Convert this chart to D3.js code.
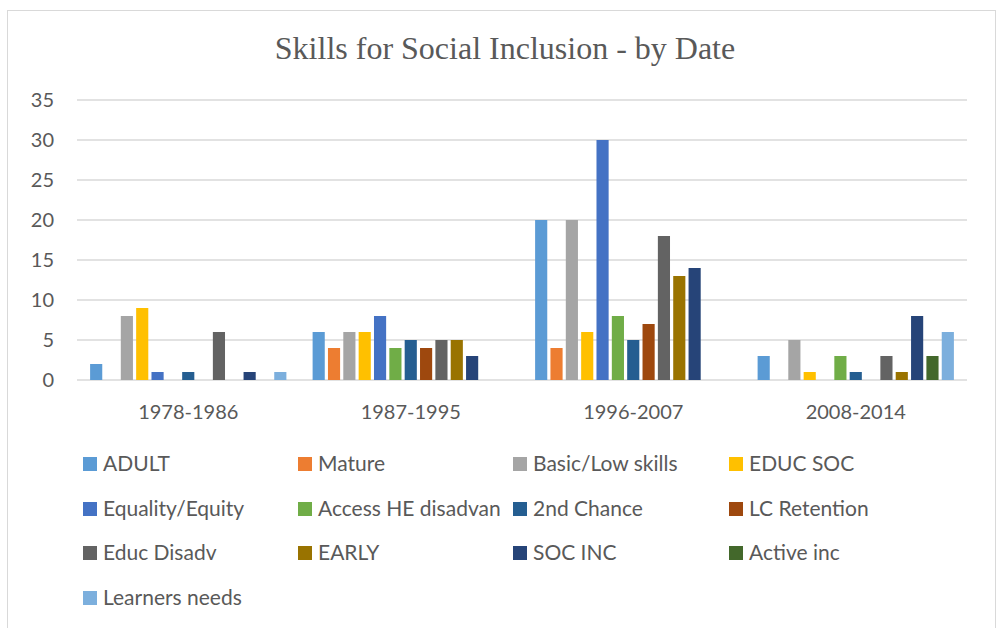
<!DOCTYPE html>
<html>
<head>
<meta charset="utf-8">
<script src="https://cdn.jsdelivr.net/npm/d3@7"></script>
<style>
  html, body { margin: 0; padding: 0; background: #fff; }
  svg { display: block; }
</style>
</head>
<body>
<svg id="chart" width="997" height="628"></svg>
<script>
// Periods on the x axis
const periods = ["1978-1986", "1987-1995", "1996-2007", "2008-2014"];

// Series names (legend order)
const seriesNames = [
  "ADULT", "Mature", "Basic/Low skills", "EDUC SOC",
  "Equality/Equity", "Access HE disadvan", "2nd Chance", "LC Retention",
  "Educ Disadv", "EARLY", "SOC INC", "Active inc",
  "Learners needs"
];

// Count per series, one value per period
const adult        = [2, 6, 20, 3];
const mature       = [0, 4, 4, 0];
const basicLow     = [8, 6, 20, 5];
const educSoc      = [9, 6, 6, 1];
const equality     = [1, 8, 30, 0];
const accessHE     = [0, 4, 8, 3];
const secondChance = [1, 5, 5, 1];
const lcRetention  = [0, 4, 7, 0];
const educDisadv   = [6, 5, 18, 3];
const early        = [0, 5, 13, 1];
const socInc       = [1, 3, 14, 8];
const activeInc    = [0, 0, 0, 3];
const learnersNeeds = [1, 0, 0, 6];

const seriesValues = [adult, mature, basicLow, educSoc, equality, accessHE,
  secondChance, lcRetention, educDisadv, early, socInc, activeInc, learnersNeeds];

const seriesColors = [
  "#5B9BD5", "#ED7D31", "#A5A5A5", "#FFC000",
  "#4472C4", "#70AD47", "#255E91", "#9E480E",
  "#636363", "#997300", "#264478", "#43682B",
  "#7CAFDD"
];

const yTicks = [0, 5, 10, 15, 20, 25, 30, 35];

const svg = d3.select("#chart");
const textColor = "#595959";
const uiFont = "Lato, 'Open Sans', sans-serif";

// outer chart frame
svg.append("rect")
  .attr("x", 7.5).attr("y", 10.5)
  .attr("width", 988).attr("height", 640)
  .attr("fill", "#fff").attr("stroke", "#d9d9d9").attr("stroke-width", 1);

// title
svg.append("text")
  .attr("x", 505).attr("y", 59)
  .attr("text-anchor", "middle")
  .attr("font-family", "'Liberation Serif', 'Times New Roman', serif")
  .attr("font-size", 32)
  .attr("fill", textColor)
  .text("Skills for Social Inclusion - by Date");

const plot = { left: 77, right: 967, top: 100, bottom: 380 };

const x0 = d3.scaleBand()
  .domain(periods)
  .range([plot.left, plot.right])
  .paddingInner(0).paddingOuter(0);

const x1 = d3.scaleBand()
  .domain(d3.range(seriesNames.length))
  .range([0, x0.bandwidth()])
  .paddingOuter(0.75).paddingInner(0);

const y = d3.scaleLinear().domain([0, 35]).range([plot.bottom, plot.top]);

// gridlines
svg.append("g")
  .selectAll("line")
  .data(yTicks)
  .join("line")
  .attr("x1", plot.left).attr("x2", plot.right)
  .attr("y1", d => y(d)).attr("y2", d => y(d))
  .attr("stroke", "#d9d9d9").attr("stroke-width", 1.3);

// y axis labels
const yAxis = d3.axisLeft(y).tickValues(yTicks).tickSize(0).tickPadding(0);
svg.append("g")
  .attr("transform", `translate(${plot.left - 23},0)`)
  .call(yAxis)
  .call(g => g.select(".domain").remove())
  .call(g => g.selectAll("text")
    .attr("font-family", uiFont)
    .attr("font-size", 20)
    .attr("fill", textColor));

// bars (inset a little so neighbouring bars show a thin white gap)
const barInset = 1.6;
const groups = svg.append("g")
  .selectAll("g")
  .data(periods)
  .join("g")
  .attr("transform", d => `translate(${x0(d)},0)`);

groups.selectAll("rect")
  .data((p, pi) => seriesValues.map((vals, si) => ({ si, v: vals[pi] })))
  .join("rect")
  .filter(d => d.v > 0)
  .attr("x", d => x1(d.si) + barInset)
  .attr("y", d => y(d.v))
  .attr("width", x1.bandwidth() - 2 * barInset)
  .attr("height", d => y(0) - y(d.v))
  .attr("fill", d => seriesColors[d.si]);

// x axis labels
const xAxis = d3.axisBottom(x0).tickSize(0).tickPadding(0);
svg.append("g")
  .attr("transform", `translate(0,419)`)
  .call(xAxis)
  .call(g => g.select(".domain").remove())
  .call(g => g.selectAll("text")
    .attr("y", 0)
    .attr("dy", 0)
    .attr("font-family", uiFont)
    .attr("font-size", 20)
    .attr("fill", textColor));

// legend: 4 columns
const legendCols = [83, 298, 513, 729];
const legendRows = [464, 509, 553, 598];
const legend = svg.append("g")
  .selectAll("g")
  .data(seriesNames)
  .join("g")
  .attr("transform", (d, i) => `translate(${legendCols[i % 4]},${legendRows[Math.floor(i / 4)]})`);

legend.append("rect")
  .attr("x", 0).attr("y", -7)
  .attr("width", 14).attr("height", 14)
  .attr("fill", (d, i) => seriesColors[i]);

legend.append("text")
  .attr("x", 20).attr("y", 7)
  .attr("font-family", uiFont)
  .attr("font-size", 21)
  .attr("fill", textColor)
  .text(d => d);
</script>
</body>
</html>
